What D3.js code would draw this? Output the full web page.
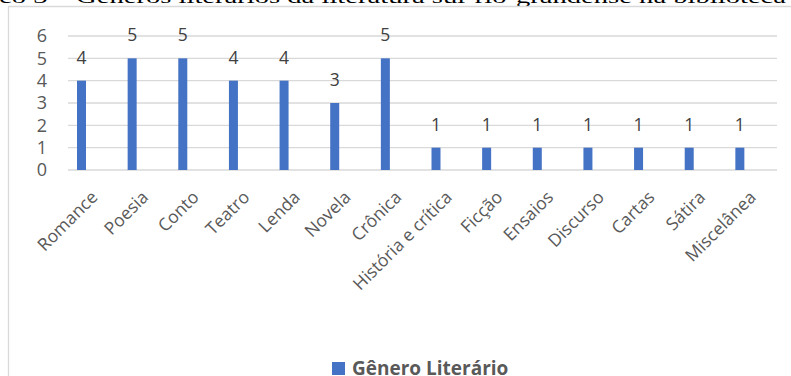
<!DOCTYPE html>
<html>
<head>
<meta charset="utf-8">
<script src="https://cdn.jsdelivr.net/npm/d3@7"></script>
<style>
  body { margin: 0; background: #fff; }
  svg { display: block; }
</style>
</head>
<body>
<div id="chart"></div>
<script>
// data
var categories = ["Romance", "Poesia", "Conto", "Teatro", "Lenda", "Novela", "Crônica",
  "História e crítica", "Ficção", "Ensaios", "Discurso", "Cartas", "Sátira", "Miscelânea"];
var values = [4, 5, 5, 4, 4, 3, 5, 1, 1, 1, 1, 1, 1, 1];
var yTicks = [0, 1, 2, 3, 4, 5, 6];
var seriesName = "Gênero Literário";
var titleText = "co 3 – Gêneros literários da literatura sul-rio-grandense na biblioteca";

var W = 791, H = 376;
var margin = { top: 36, right: 14, bottom: 206, left: 68 },
  width = W - margin.left - margin.right,
  height = H - margin.top - margin.bottom;

var svg = d3.select("#chart")
  .append("svg")
  .attr("width", W)
  .attr("height", H);

// cropped title at the very top
svg.append("text")
  .attr("x", -1)
  .attr("y", 3)
  .attr("textLength", 787)
  .attr("lengthAdjust", "spacingAndGlyphs")
  .style("font-family", "'Liberation Serif', serif")
  .style("font-size", "19px")
  .style("fill", "#000")
  .text(titleText);

// chart frame
svg.append("path")
  .attr("d", "M8.5," + H + "V6.5H" + (W + 2))
  .attr("fill", "none")
  .attr("stroke", "#d9d9d9")
  .attr("stroke-width", 1.3);

var g = svg.append("g")
  .attr("transform", "translate(" + margin.left + "," + margin.top + ")");

var x = d3.scaleBand()
  .domain(categories)
  .range([0, width]);

var y = d3.scaleLinear()
  .domain([0, 6])
  .range([height, 0]);

// gridlines
g.selectAll("line.grid")
  .data(yTicks)
  .join("line")
  .attr("class", "grid")
  .attr("x1", 0)
  .attr("x2", width)
  .attr("y1", d => y(d))
  .attr("y2", d => y(d))
  .attr("stroke", "#d9d9d9")
  .attr("stroke-width", 1.3);

// y axis labels
g.selectAll("text.ytick")
  .data(yTicks)
  .join("text")
  .attr("class", "ytick")
  .attr("x", -21)
  .attr("y", d => y(d))
  .attr("dy", "0.36em")
  .attr("text-anchor", "end")
  .style("font-family", "'Open Sans', sans-serif")
  .style("font-size", "18px")
  .style("fill", "#595959")
  .text(d => d);

// bars sit left inside each band (as in the original)
var barW = 9;
var barOff = 13.5;
g.selectAll("rect.bar")
  .data(values)
  .join("rect")
  .attr("class", "bar")
  .attr("x", (d, i) => x(categories[i]) + barOff - barW / 2)
  .attr("y", d => y(d))
  .attr("width", barW)
  .attr("height", d => height - y(d))
  .attr("fill", "#4472c4");

// value labels
g.selectAll("text.val")
  .data(values)
  .join("text")
  .attr("class", "val")
  .attr("x", (d, i) => x(categories[i]) + barOff)
  .attr("y", d => y(d) - 17)
  .attr("text-anchor", "middle")
  .style("font-family", "'Open Sans', sans-serif")
  .style("font-size", "17.5px")
  .style("fill", "#404040")
  .text(d => d);

// category labels, rotated
g.selectAll("text.cat")
  .data(categories)
  .join("text")
  .attr("class", "cat")
  .attr("transform", d => "translate(" + (x(d) + x.bandwidth() / 2 + 1) + "," + (height + 24) + ")rotate(-45)")
  .attr("text-anchor", "end")
  .attr("dy", "0.35em")
  .style("font-family", "'Open Sans', sans-serif")
  .style("font-size", "17.5px")
  .style("fill", "#595959")
  .text(d => d);

// legend
var leg = svg.append("g")
  .attr("transform", "translate(332,362)");
leg.append("rect")
  .attr("width", 13)
  .attr("height", 13)
  .attr("fill", "#4472c4");
leg.append("text")
  .attr("x", 20)
  .attr("y", 12.5)
  .style("font-family", "'Open Sans', sans-serif")
  .style("font-size", "19px")
  .style("font-weight", "bold")
  .style("fill", "#595959")
  .text(seriesName);
</script>
</body>
</html>
